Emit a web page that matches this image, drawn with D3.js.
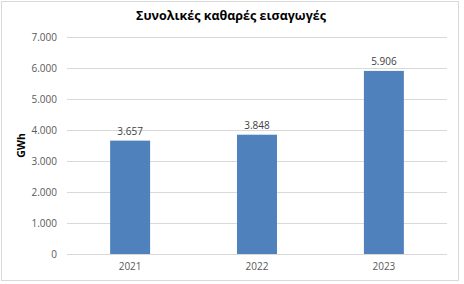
<!DOCTYPE html>
<html>
<head>
<meta charset="utf-8">
<script src="https://cdn.jsdelivr.net/npm/d3@7"></script>
<style>
  body { margin: 0; background: #fff; }
  text { font-family: "Open Sans", "Noto Sans", sans-serif; }
</style>
</head>
<body>
<div id="chart"></div>
<script>
var years = ["2021", "2022", "2023"];
var imports = [3657, 3848, 5906];
var yTicks = [0, 1000, 2000, 3000, 4000, 5000, 6000, 7000];

var svgWidth = 464;
var svgHeight = 284;

var margin = { top: 37, bottom: 30, right: 17, left: 67 };
var height = svgHeight - margin.top - margin.bottom;
var width = svgWidth - margin.left - margin.right;

var greek = d3.formatLocale({ decimal: ",", thousands: ".", grouping: [3], currency: ["", "€"] });
var fmt = greek.format(",d");

var svg = d3.select("#chart")
    .append("svg")
    .attr("width", svgWidth)
    .attr("height", svgHeight);

// chart frame
svg.append("rect")
    .attr("x", 1.5).attr("y", 1.5)
    .attr("width", 457).attr("height", 279)
    .attr("fill", "#fff")
    .attr("stroke", "#d9d9d9");

var chartGroup = svg.append("g")
    .attr("transform", `translate(${margin.left}, ${margin.top})`);

var x = d3.scaleBand().domain(years).range([0, width]).paddingInner(0.685).paddingOuter(0.34);
var y = d3.scaleLinear().domain([0, 7000]).range([height, 0]);

// gridlines
chartGroup.append("g")
    .call(d3.axisLeft(y).tickValues(yTicks).tickSize(-width).tickFormat(""))
    .call(g => g.select(".domain").remove())
    .call(g => g.selectAll("line").attr("stroke", "#d9d9d9"));

// y tick labels
chartGroup.append("g")
    .call(d3.axisLeft(y).tickValues(yTicks).tickSize(0).tickPadding(10).tickFormat(fmt))
    .call(g => g.select(".domain").remove())
    .call(g => g.selectAll("text").attr("fill", "#595959").style("font-size", "10px"));

// bars
chartGroup.selectAll("rect.bar")
    .data(imports)
    .enter()
    .append("rect")
    .attr("class", "bar")
    .attr("x", (d, i) => x(years[i]))
    .attr("y", d => y(d))
    .attr("width", x.bandwidth())
    .attr("height", d => height - y(d))
    .attr("fill", "#4f81bd");

// baseline
chartGroup.append("line")
    .attr("x1", 0).attr("x2", width)
    .attr("y1", height + 0.5).attr("y2", height + 0.5)
    .attr("stroke", "#d9d9d9");

// value labels
chartGroup.selectAll("text.val")
    .data(imports)
    .enter()
    .append("text")
    .attr("class", "val")
    .attr("x", (d, i) => x(years[i]) + x.bandwidth() / 2)
    .attr("y", d => y(d) - 6)
    .attr("text-anchor", "middle")
    .attr("fill", "#404040")
    .style("font-size", "10px")
    .text(d => fmt(d));

// x axis labels
chartGroup.append("g")
    .attr("transform", `translate(0, ${height})`)
    .call(d3.axisBottom(x).tickSize(0).tickPadding(9))
    .call(g => g.select(".domain").remove())
    .call(g => g.selectAll("text").attr("fill", "#595959").style("font-size", "10px"));

// title
svg.append("text")
    .attr("x", 231)
    .attr("y", 20)
    .attr("text-anchor", "middle")
    .attr("fill", "#000")
    .style("font-size", "12.5px")
    .style("font-weight", "bold")
    .text("Συνολικές καθαρές εισαγωγές");

// y axis title
svg.append("text")
    .attr("transform", `translate(25, ${margin.top + height / 2}) rotate(-90)`)
    .attr("text-anchor", "middle")
    .attr("fill", "#000")
    .style("font-size", "10.5px")
    .style("font-weight", "bold")
    .text("GWh");
</script>
</body>
</html>
